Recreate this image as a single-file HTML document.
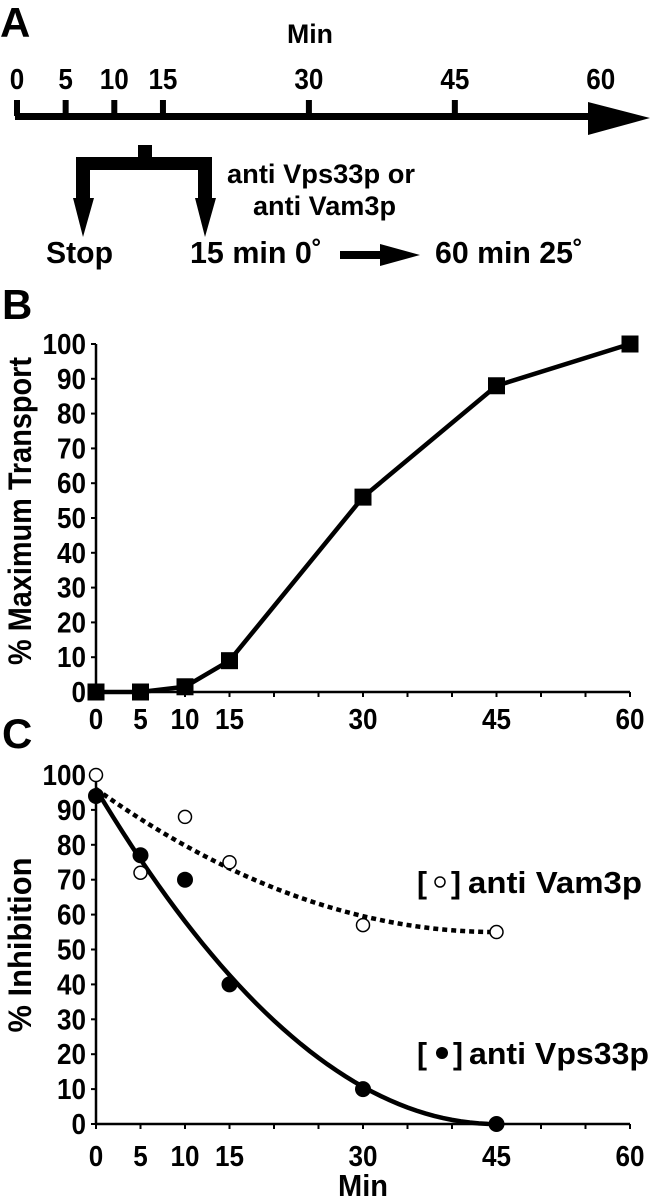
<!DOCTYPE html>
<html><head><meta charset="utf-8"><style>
html,body{margin:0;padding:0;background:#fff;}
svg{display:block;font-family:"Liberation Sans",sans-serif;font-weight:bold;}
</style></head><body>
<svg id="fig" width="650" height="1199" viewBox="0 0 650 1199">
<g>
<text x="0" y="37" font-size="42">A</text>
<text x="310" y="43" font-size="27" text-anchor="middle" textLength="46" lengthAdjust="spacingAndGlyphs">Min</text>
<rect x="15" y="113" width="578" height="7" fill="#000"/>
<polygon points="588,102 650,118 588,135" fill="#000"/>
<g id="aTicks"></g>
<path d="M138,145 H152 V157 H212 V198 H198 V170 H90 V198 H76 V157 H138 Z" fill="#000"/>
<polygon points="73,198 94,198 83,237" fill="#000"/>
<polygon points="195,198 216,198 205,237" fill="#000"/>
<text x="227" y="183" font-size="27" textLength="188" lengthAdjust="spacingAndGlyphs">anti Vps33p or</text>
<text x="253" y="215" font-size="27" textLength="143" lengthAdjust="spacingAndGlyphs">anti Vam3p</text>
<text x="46" y="263" font-size="31" textLength="67" lengthAdjust="spacingAndGlyphs">Stop</text>
<text x="190" y="263" font-size="31" textLength="132" lengthAdjust="spacingAndGlyphs">15 min 0˚</text>
<rect x="340" y="251" width="42" height="8" fill="#000"/>
<polygon points="380,244 420,255 380,266" fill="#000"/>
<text x="435" y="263" font-size="31" textLength="148" lengthAdjust="spacingAndGlyphs">60 min 25˚</text>
</g>
<text x="2" y="319" font-size="42">B</text>
<text x="2" y="748" font-size="42">C</text>
<g id="chartB"></g>
<g id="chartC"></g>
<g>
<text x="417" y="893" font-size="31" textLength="10" lengthAdjust="spacingAndGlyphs">[</text>
<circle cx="440" cy="882" r="5" fill="#fff" stroke="#000" stroke-width="1.5"/>
<text x="451" y="893" font-size="31" textLength="10" lengthAdjust="spacingAndGlyphs">]</text>
<text x="468" y="893" font-size="31" textLength="174" lengthAdjust="spacingAndGlyphs">anti Vam3p</text>
</g>
<g>
<text x="417" y="1064" font-size="31" textLength="10" lengthAdjust="spacingAndGlyphs">[</text>
<circle cx="442" cy="1053" r="6" fill="#000"/>
<text x="453" y="1064" font-size="31" textLength="10" lengthAdjust="spacingAndGlyphs">]</text>
<text x="469" y="1064" font-size="31" textLength="180" lengthAdjust="spacingAndGlyphs">anti Vps33p</text>
</g>
</svg>
<script>
const timelineTicks = [0,5,10,15,30,45];
const timelineLabels = [0,5,10,15,30,45,60];
const xTicks = [0,5,10,15,30,45,60];
const yTicks = [0,10,20,30,40,50,60,70,80,90,100];
const timeB = [0,5,10,15,30,45,60];
const transport = [0,0,1.5,9,56,88,100];
const timeC = [0,5,10,15,30,45];
const vam3p = [100,72,88,75,57,55];
const vps33p = [94,77,70,40,10,0];
const vam3pFit = [55,0.02025,45];  // plateau, curvature, vertex
const vps33pFit = [0,0.0474,45];

const NS="http://www.w3.org/2000/svg";
function mk(parent,tag,attrs){const e=document.createElementNS(NS,tag);for(const k in attrs)e.setAttribute(k,attrs[k]);parent.appendChild(e);return e;}
function lblW(t){return String(t).length*14.5;}

const aT=document.getElementById('aTicks');
const ax=m=>17+m*9.73;
timelineTicks.forEach(t=>{
  const r=mk(aT,'rect',{x:ax(t)-3,y:100,width:6,height:16,fill:'#000'});
  
  
});
timelineLabels.forEach(t=>{
  const tx=mk(aT,'text',{x:ax(t),y:89,'font-size':29,'text-anchor':'middle',textLength:lblW(t),lengthAdjust:'spacingAndGlyphs'});
  tx.textContent=t;
  
  
});

function axes(g,y0,y100,labelY,title,titleY,titleLen,prefix){
  const X=m=>96+m*534/60, Y=v=>y0-(y0-y100)*v/100;
  const yl=mk(g,'line',{x1:96,y1:y100,x2:96,y2:y0,stroke:'#000','stroke-width':2.5});
  
  const xl=mk(g,'line',{x1:96,y1:y0,x2:630,y2:y0,stroke:'#000','stroke-width':2.5});
  
  for(let m=0;m<=60;m+=5){const t=mk(g,'line',{x1:X(m),y1:y0,x2:X(m),y2:y0+5,stroke:'#000','stroke-width':2});
    }
  xTicks.forEach(m=>{const t=mk(g,'text',{x:X(m),y:labelY,'font-size':29,'text-anchor':'middle',textLength:lblW(m),lengthAdjust:'spacingAndGlyphs'});t.textContent=m;
    });
  yTicks.forEach(v=>{const t=mk(g,'line',{x1:91,y1:Y(v),x2:96,y2:Y(v),stroke:'#000','stroke-width':2});
    
    const l=mk(g,'text',{x:86,y:Y(v)+10,'font-size':29,'text-anchor':'end',textLength:lblW(v),lengthAdjust:'spacingAndGlyphs'});l.textContent=v;
    });
  const tt=mk(g,'text',{x:0,y:0,'font-size':32,'text-anchor':'middle',textLength:titleLen,lengthAdjust:'spacingAndGlyphs',transform:`translate(31,${titleY}) rotate(-90)`});
  tt.textContent=title;
  return [X,Y];
}

const gB=document.getElementById('chartB');
const [XB,YB]=axes(gB,692,344,729,'% Maximum Transport',511,308,'transport');
const lb=mk(gB,'polyline',{points:timeB.map((m,i)=>XB(m)+','+YB(transport[i])).join(' '),fill:'none',stroke:'#000','stroke-width':4.5});

timeB.forEach((m,i)=>{const s=mk(gB,'rect',{x:XB(m)-8.5,y:YB(transport[i])-8.5,width:17,height:17,fill:'#000'});
  });

const gC=document.getElementById('chartC');
const [XC,YC]=axes(gC,1124,775,1166,'% Inhibition',945,175,'inhibition');
const mt=mk(gC,'text',{x:XC(30),y:1196,'font-size':31,'text-anchor':'middle',textLength:50,lengthAdjust:'spacingAndGlyphs'});mt.textContent='Min';

function fitPath(f){let d='';for(let m=0;m<=45;m+=1){const v=f[0]+f[1]*(f[2]-m)*(f[2]-m);d+=(m?'L':'M')+XC(m)+','+YC(v);}return d;}
const dv=mk(gC,'path',{d:fitPath(vam3pFit),fill:'none',stroke:'#000','stroke-width':4.5,'stroke-dasharray':'5,4'});

const sv=mk(gC,'path',{d:fitPath(vps33pFit),fill:'none',stroke:'#000','stroke-width':4.5});

timeC.forEach((m,i)=>{const c=mk(gC,'circle',{cx:XC(m),cy:YC(vps33p[i]),r:8,fill:'#000'});
  });
timeC.forEach((m,i)=>{const c=mk(gC,'circle',{cx:XC(m),cy:YC(vam3p[i]),r:6.5,fill:'#fff',stroke:'#000','stroke-width':1.5});
  });
</script>
</body></html>
